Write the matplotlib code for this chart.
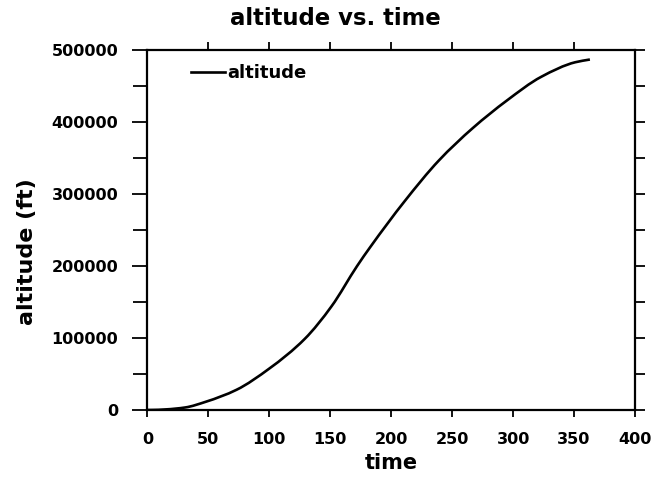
import matplotlib
matplotlib.use("Agg")
import numpy as np
import matplotlib.pyplot as plt
from matplotlib.ticker import MultipleLocator
from matplotlib.path import Path
from matplotlib.patches import PathPatch
from matplotlib.lines import Line2D

# altitude profile of the ascent
time = [0, 3, 15, 31, 48, 73, 100, 129, 151, 172, 183, 211, 239, 267, 295, 323, 351, 363]
altitude = [0, 0, 800, 3500, 11500, 28000, 57600, 98700, 144000, 200000,
            226800, 290000, 346400, 391700, 430000, 462700, 483000, 486800]

x_ticks = [0, 50, 100, 150, 200, 250, 300, 350, 400]
y_ticks = [0, 100000, 200000, 300000, 400000, 500000]

plt.rcParams['font.family'] = ['DejaVu Sans']

fig = plt.figure(figsize=(6.62, 4.79), dpi=100)
ax = fig.add_axes([0.2228, 0.1441, 0.7364, 0.7515])


def smooth_path(x, y):
    """Monotone cubic (Fritsch-Carlson) curve through the points, as Bezier segments."""
    x = np.asarray(x, float)
    y = np.asarray(y, float)
    h = np.diff(x)
    d = np.diff(y) / h
    m = np.zeros_like(x)
    m[0], m[-1] = d[0], d[-1]
    for i in range(1, len(x) - 1):
        if d[i - 1] * d[i] > 0:
            w1 = 2 * h[i] + h[i - 1]
            w2 = h[i] + 2 * h[i - 1]
            m[i] = (w1 + w2) / (w1 / d[i - 1] + w2 / d[i])
    verts = [(x[0], y[0])]
    codes = [Path.MOVETO]
    for i in range(len(x) - 1):
        verts += [(x[i] + h[i] / 3, y[i] + m[i] * h[i] / 3),
                  (x[i + 1] - h[i] / 3, y[i + 1] - m[i + 1] * h[i] / 3),
                  (x[i + 1], y[i + 1])]
        codes += [Path.CURVE4] * 3
    return Path(verts, codes)


ax.add_patch(PathPatch(smooth_path(time, altitude), facecolor='none', edgecolor='black',
                       linewidth=1.9, capstyle='butt', joinstyle='round'))

ax.set_xlim(0, 400)
ax.set_ylim(0, 500000)
ax.set_xticks(x_ticks)
ax.set_yticks(y_ticks)
ax.yaxis.set_minor_locator(MultipleLocator(50000))

for s in ax.spines.values():
    s.set_linewidth(1.6)

ax.tick_params(axis='both', which='both', direction='out', width=1.3, colors='black')
ax.tick_params(axis='x', which='major', length=5, labelsize=11.5, pad=11)
ax.tick_params(axis='y', which='major', length=11, labelsize=11.5, pad=10)
ax.tick_params(axis='y', which='minor', length=10)
ax.tick_params(axis='x', top=True)
ax.tick_params(axis='y', which='both', right=True)

# top and right ticks are shorter than the left ones
for t in ax.xaxis.get_major_ticks():
    t.tick2line.set_markersize(6)
for t in ax.yaxis.get_major_ticks() + ax.yaxis.get_minor_ticks():
    t.tick2line.set_markersize(7)
ax.xaxis.get_major_ticks()[0].tick2line.set_visible(False)
ax.xaxis.get_major_ticks()[-1].tick2line.set_visible(False)

for lab in ax.get_xticklabels() + ax.get_yticklabels():
    lab.set_fontweight('bold')

ax.set_xlabel('time', fontsize=15, fontweight='bold', labelpad=4)
ax.set_ylabel('altitude (ft)', fontsize=16, fontweight='bold')
ax.yaxis.set_label_coords(-0.227, 0.439)

fig.text(0.506, 1 - 25 / 479, 'altitude vs. time', fontsize=16.4, fontweight='bold',
         ha='center', va='baseline')

handle = Line2D([], [], color='black', linewidth=1.9)
leg = ax.legend([handle], ['altitude'], loc='center left', bbox_to_anchor=(0.055, 0.935),
                frameon=False, handlelength=1.9, handletextpad=0.15,
                prop={'weight': 'bold', 'size': 13})

fig.savefig('out.png', dpi=100)
